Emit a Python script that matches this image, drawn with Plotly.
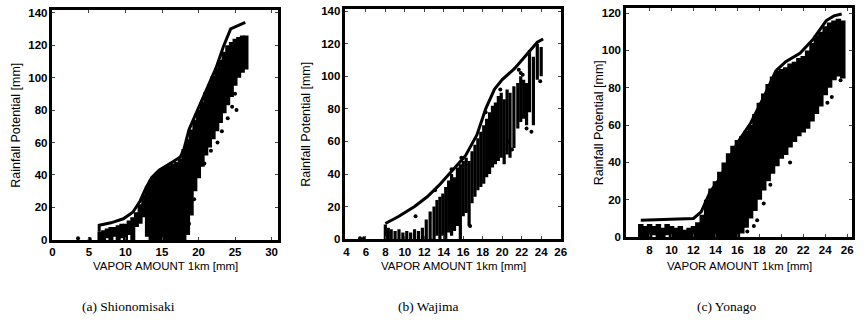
import plotly.graph_objects as go

# ---------------- (a) Shionomisaki ----------------
A_ENV_X = [6.4, 6.4, 8.0, 9.7, 11.0, 12.0, 12.8, 13.6, 14.6, 15.6, 16.6, 17.5, 18.0, 18.7, 19.6, 20.6, 21.5, 22.4, 23.4, 24.4, 26.4]
A_ENV_Y = [5, 9, 10.5, 13, 17, 24, 32, 38.5, 43, 46, 48.5, 51, 56, 68, 77, 87, 97, 106, 119, 130, 134]
A_COL_X = [6.5, 7.0, 7.5, 8.0, 8.5, 9.0, 9.5, 10.0, 10.5, 11.0, 11.5, 12.0, 12.5, 13.0, 13.5, 14.0, 14.5, 15.0,
           15.5, 16.0, 16.5, 17.0, 17.5, 18.0, 18.5, 19.0, 19.5, 20.0, 20.5, 21.0, 21.5, 22.0, 22.5, 23.0, 23.5,
           24.0, 24.5, 25.0, 25.5, 26.0, 26.5]
A_COL_LO = [0, 0, 1, 0, 2, 0, 1, 0, 3, 0, 8, 10, 14, 2, 0, 0, 0, 0,
            0, 0, 0, 0, 0, 0, 3, 15, 30, 38, 45, 52, 57, 62, 67, 72, 78,
            83, 88, 95, 100, 103, 105]
A_COL_HI = [5, 6, 7, 8, 8, 9, 10, 10, 12, 14, 17, 22, 28, 33, 37, 40, 42, 44,
            45, 46, 47, 48, 50, 56, 62, 68, 74, 80, 85, 91, 96, 101, 106, 111, 116,
            120, 122, 124, 125, 126, 126]
A_DOT_X = [3.5, 5.1, 25.2, 22.6, 23.2, 24.0, 24.6, 21.7, 20.8, 19.4, 18.7, 25.0]
A_DOT_Y = [1, 0.5, 80, 60, 67, 75, 82, 55, 47, 25, 10, 90]

# ---------------- (b) Wajima ----------------
B_ENV_X = [8.0, 9.4, 11.0, 12.3, 13.5, 14.8, 16.2, 17.4, 17.9, 18.3, 19.2, 20.0, 21.3, 22.0, 23.0, 23.6, 24.2]
B_ENV_Y = [9.6, 14, 20, 26, 33, 42, 51, 64, 73, 80, 92, 98, 105, 110, 117, 121, 123]
B_COL_X = [8.0, 8.3, 8.6, 9.0, 9.4, 9.8, 10.2, 10.6, 11.0, 11.4, 11.8, 12.2, 12.6, 13.0, 13.3, 13.6, 13.9,
           14.2, 14.5, 14.8, 15.1, 15.4, 15.7, 16.0, 16.3, 16.6, 16.9, 17.2, 17.5, 17.8, 18.1, 18.4, 18.7,
           19.0, 19.3, 19.6, 19.9, 20.2, 20.5, 20.8, 21.2, 21.6, 21.9, 22.2, 22.5, 22.8, 23.2, 23.6, 24.0]
B_COL_LO = [0, 0, 0, 0, 0, 0, 0, 0, 0, 0, 0, 0, 0, 0, 2, 0, 2,
            0, 4, 2, 5, 8, 0, 14, 16, 8, 22, 26, 30, 32, 34, 38, 40,
            44, 46, 48, 50, 46, 52, 50, 56, 68, 72, 74, 70, 78, 70, 98, 100]
B_COL_HI = [9, 7, 6, 5, 6, 4, 5, 4, 6, 5, 7, 12, 17, 20, 24, 26, 28,
            32, 36, 40, 38, 44, 46, 48, 50, 48, 54, 58, 62, 66, 70, 74, 78,
            82, 84, 88, 90, 86, 92, 90, 94, 96, 100, 98, 96, 116, 112, 120, 118]
B_DOT_X = [5.4, 5.8, 11.1, 13.1, 14.8, 15.8, 16.7, 20.6, 21.0, 22.5, 23.0, 21.7, 21.9, 22.1, 18.3, 19.8, 23.9]
B_DOT_Y = [0.5, 0.5, 14, 30, 43, 50, 8, 60, 55, 68, 66, 104, 102, 101, 78, 92, 97]

# ---------------- (c) Yonago ----------------
C_ENV_X = [7.2, 9.0, 12.0, 12.7, 13.5, 14.4, 15.3, 16.0, 17.2, 18.4, 19.5, 20.4, 21.7, 22.9, 24.1, 24.8, 25.5]
C_ENV_Y = [9, 9.4, 10, 13.5, 24, 31.5, 42, 50.5, 61, 75, 89, 94, 98.5, 106, 116, 118.5, 119.5]
C_COL_X = [7.2, 7.6, 8.0, 8.4, 8.8, 9.2, 9.6, 10.0, 10.4, 10.8, 11.2, 11.6, 12.0, 12.4, 12.8, 13.2, 13.6,
           14.0, 14.4, 14.8, 15.2, 15.6, 16.0, 16.4, 16.8, 17.2, 17.6, 18.0, 18.4, 18.8, 19.2, 19.6, 20.0,
           20.4, 20.8, 21.2, 21.6, 22.0, 22.4, 22.8, 23.2, 23.6, 24.0, 24.4, 24.8, 25.2, 25.6]
C_COL_LO = [0, 0, 0, 1, 0, 0, 1, 0, 0, 0, 0, 0, 0, 0, 0, 0, 0,
            0, 0, 0, 0, 0, 0, 2, 5, 10, 14, 20, 25, 30, 34, 38, 42,
            44, 48, 51, 54, 56, 58, 62, 66, 70, 76, 80, 84, 86, 85]
C_COL_HI = [7, 6, 7, 6, 7, 5, 7, 6, 5, 6, 4, 5, 6, 8, 12, 20, 26,
            30, 35, 40, 45, 49, 52, 54, 57, 60, 66, 72, 77, 82, 86, 89, 90,
            91, 93, 94, 96, 97, 100, 104, 108, 110, 113, 115, 116, 117, 116]
C_DOT_X = [17.5, 17.8, 18.4, 19.0, 20.8, 24.2, 24.6, 25.4, 16.9]
C_DOT_Y = [6, 9, 18, 28, 40, 72, 75, 84, 3]

CAPTIONS = ["(a) Shionomisaki", "(b) Wajima", "(c) Yonago"]
X_TICKS = [[0, 5, 10, 15, 20, 25, 30],
           [4, 6, 8, 10, 12, 14, 16, 18, 20, 22, 24, 26],
           [8, 10, 12, 14, 16, 18, 20, 22, 24, 26]]
Y_TICKS = [[0, 20, 40, 60, 80, 100, 120, 140],
           [0, 20, 40, 60, 80, 100, 120, 140],
           [0, 20, 40, 60, 80, 100, 120]]
X_TITLE = "VAPOR AMOUNT 1km [mm]"
Y_TITLE = "Rainfall Potential [mm]"


def segments(xs, lo, hi):
    X, Y = [], []
    for x, l, h in zip(xs, lo, hi):
        X += [x, x, None]
        Y += [l, h, None]
    return X, Y


panels = [
    (A_ENV_X, A_ENV_Y, A_COL_X, A_COL_LO, A_COL_HI, A_DOT_X, A_DOT_Y, 5.0),
    (B_ENV_X, B_ENV_Y, B_COL_X, B_COL_LO, B_COL_HI, B_DOT_X, B_DOT_Y, 3.2),
    (C_ENV_X, C_ENV_Y, C_COL_X, C_COL_LO, C_COL_HI, C_DOT_X, C_DOT_Y, 5.5),
]

W, H = 868, 331
# plot boxes in pixels: left, right, top, bottom
boxes = [(50, 278, 7, 243.5), (346, 564, 6, 242.7), (629.5, 858, 5, 240.7)]
xranges = [[0, 30.9], [3.9, 26.05], [5.85, 26.45]]
yranges = [[0, 141.8], [0, 141.5], [0, 122.8]]
ytitle_x = [13, 306, 602]
caption_x = [127, 430, 731]

fig = go.Figure()
for i, (ex, ey, cx, clo, chi, dx, dy, lw) in enumerate(panels):
    xa = "x" if i == 0 else f"x{i+1}"
    ya = "y" if i == 0 else f"y{i+1}"
    SX, SY = segments(cx, clo, chi)
    fig.add_trace(go.Scatter(x=SX, y=SY, mode="lines", line=dict(color="black", width=lw),
                             xaxis=xa, yaxis=ya, showlegend=False, hoverinfo="skip"))
    fig.add_trace(go.Scatter(x=dx, y=dy, mode="markers", marker=dict(color="black", size=4),
                             xaxis=xa, yaxis=ya, showlegend=False))
    fig.add_trace(go.Scatter(x=ex, y=ey, mode="lines", line=dict(color="black", width=3),
                             xaxis=xa, yaxis=ya, showlegend=False))

tickfont = dict(family="Liberation Sans", size=11.5, color="black", weight="bold")
layout = dict(width=W, height=H, margin=dict(l=0, r=0, t=0, b=0),
              paper_bgcolor="white", plot_bgcolor="white", showlegend=False)
annotations = []
for i in range(3):
    l, r, t, b = boxes[i]
    sfx = "" if i == 0 else str(i + 1)
    layout["xaxis" + sfx] = dict(domain=[l / W, r / W], range=xranges[i], anchor="y" + sfx,
                                 tickvals=X_TICKS[i], ticks="inside", ticklen=3, tickwidth=1,
                                 showline=True, linewidth=2.5, linecolor="black", mirror="ticks",
                                 showgrid=False, zeroline=False, tickfont=tickfont)
    layout["yaxis" + sfx] = dict(domain=[(H - b) / H, (H - t) / H], range=yranges[i], anchor="x" + sfx,
                                 tickvals=Y_TICKS[i], ticks="inside", ticklen=3, tickwidth=1,
                                 showline=True, linewidth=2.5, linecolor="black", mirror="ticks",
                                 showgrid=False, zeroline=False, tickfont=tickfont)
    annotations.append(dict(text=Y_TITLE, xref="paper", yref="paper", x=ytitle_x[i] / W,
                            y=(H - (t + b) / 2) / H, textangle=-90, showarrow=False,
                            xanchor="center", yanchor="middle",
                            font=dict(family="Liberation Sans", size=12.5, color="black")))
    annotations.append(dict(text=X_TITLE, xref="paper", yref="paper", x=(l + r) / 2 / W,
                            y=(H - 270) / H, showarrow=False, xanchor="center", yanchor="middle",
                            font=dict(family="Liberation Sans", size=11.5, color="black")))
    annotations.append(dict(text=CAPTIONS[i], xref="paper", yref="paper", x=caption_x[i] / W,
                            y=(H - 312) / H, showarrow=False, xanchor="center", yanchor="middle",
                            font=dict(family="Liberation Serif", size=13.5, color="black")))
layout["annotations"] = annotations
fig.update_layout(**layout)
fig.write_html("out.html")
